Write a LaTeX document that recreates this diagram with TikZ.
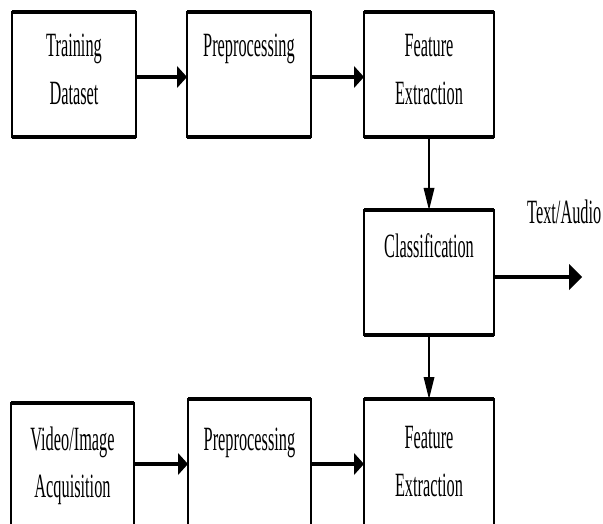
\documentclass[tikz,border=0pt]{standalone}
\usepackage{fontspec}
\usepackage{graphicx}
\setmainfont{Liberation Serif}
\usetikzlibrary{arrows.meta}
\newcommand{\sq}[1]{\scalebox{0.48}[1]{#1}}
\tikzset{
  box/.style={draw, line width=1.8pt, inner sep=0pt, outer sep=0pt},
  lbl/.style={anchor=base, inner sep=0pt, font=\fontsize{34}{40}\selectfont},
  edgeline/.style={line width=3.6pt},
  harrow/.style={line width=4pt, -{Triangle[length=10pt,width=22pt,line width=0pt]}},
  varrow/.style={line width=1.5pt, -{Triangle[length=22pt,width=11pt,line width=0pt]}},
  oarrow/.style={line width=4.5pt, -{Triangle[length=13pt,width=26pt,line width=0pt]}}
}
\begin{document}
\begin{tikzpicture}[x=1pt,y=1pt]
\useasboundingbox (0,0) rectangle (603,-524);
\clip (0,0) rectangle (603,-524);
% boxes
\node[box, minimum width=124pt, minimum height=125pt] (b1) at (74,-74.5) {};
\node[box, minimum width=124pt, minimum height=125pt] (b2) at (249,-74.5) {};
\node[box, minimum width=130pt, minimum height=125pt] (b3) at (429,-74.5) {};
\node[box, minimum width=130pt, minimum height=125pt] (cls) at (429,-272.5) {};
\node[box, minimum width=123pt, minimum height=135pt] (d1) at (72.5,-470.5) {};
\node[box, minimum width=123pt, minimum height=139pt] (d2) at (249.5,-468.5) {};
\node[box, minimum width=130pt, minimum height=139pt] (d3) at (429,-468.5) {};
% thick top/bottom edges
\foreach \n in {b1,b2,b3,cls} {
  \draw[edgeline] (\n.north west) -- (\n.north east);
  \draw[edgeline] (\n.south west) -- (\n.south east);
}
\foreach \n in {d1,d2,d3} {
  \draw[edgeline] (\n.north west) -- (\n.north east);
}
% labels
\node[lbl] (t1a) at (74,-57) {\sq{Training}};
\node[lbl] (t1b) at (74,-105) {\sq{Dataset}};
\node[lbl] (t2) at (249,-57) {\sq{Preprocessing}};
\node[lbl] (t3a) at (429,-57) {\sq{Feature}};
\node[lbl] (t3b) at (429,-105) {\sq{Extraction}};
\node[lbl] (tc) at (429,-258) {\sq{Classification}};
\node[lbl, anchor=base west] (tout) at (527,-224) {\sq{Text/Audio}};
\node[lbl] (u1a) at (72.5,-450) {\sq{Video/Image}};
\node[lbl] (u1b) at (72.5,-497) {\sq{Acquisition}};
\node[lbl] (u2) at (249.5,-450) {\sq{Preprocessing}};
\node[lbl] (u3a) at (429,-448) {\sq{Feature}};
\node[lbl] (u3b) at (429,-496) {\sq{Extraction}};
% connectors
\coordinate (ytop) at (0,-77);
\coordinate (ybot) at (0,-464);
\coordinate (outend) at (582,-277);
\draw[harrow] (b1.east |- ytop) -- (b2.west |- ytop);
\draw[harrow] (b2.east |- ytop) -- (b3.west |- ytop);
\draw[varrow] (b3.south) -- (cls.north);
\draw[oarrow] (cls.east |- outend) -- (outend);
\draw[varrow] (cls.south) -- (d3.north);
\draw[harrow] (d1.east |- ybot) -- (d2.west |- ybot);
\draw[harrow] (d2.east |- ybot) -- (d3.west |- ybot);
\end{tikzpicture}
\end{document}
